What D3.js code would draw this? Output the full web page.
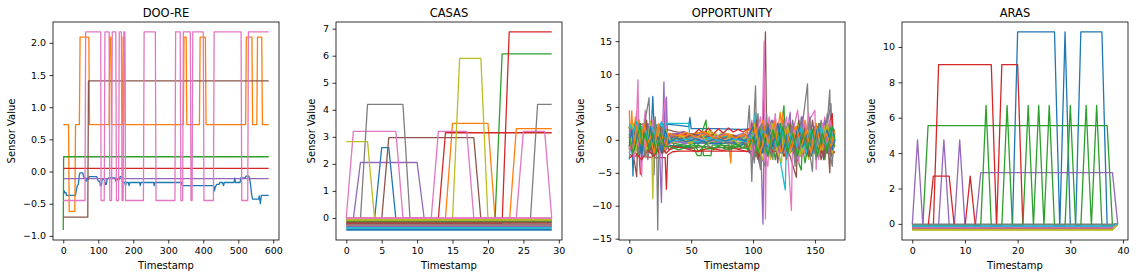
<!DOCTYPE html>
<html><head><meta charset="utf-8">
<script src="https://cdn.jsdelivr.net/npm/d3@7"></script>
<style>
body{margin:0;background:#fff;}
svg text{font-family:"DejaVu Sans",sans-serif;fill:#000;}
</style></head><body>
<svg id="chart" width="1138" height="278"></svg>
<script>
const titles = ["DOO-RE","CASAS","OPPORTUNITY","ARAS"];
const xLabel = "Timestamp";
const yLabel = "Sensor Value";

const xTicksDOORE = [0,100,200,300,400,500,600];
const yTicksDOORE = [-1.0,-0.5,0.0,0.5,1.0,1.5,2.0];
const xTicksCASAS = [0,5,10,15,20,25,30];
const yTicksCASAS = [0,1,2,3,4,5,6,7];
const xTicksOPP = [0,50,100,150];
const yTicksOPP = [-15,-10,-5,0,5,10,15];
const xTicksARAS = [0,10,20,30,40];
const yTicksARAS = [0,2,4,6,8,10];

// DOO-RE: each series is a list of [timestamp, value] vertices
const dooreSeries = [
 [[0,-0.3],[3,-0.3],[4,-0.33],[8,-0.33],[9,-0.37],[35,-0.37],[37,-0.3],[40,-0.22],[43,-0.2],[46,-0.05],[48,-0.02],[56,-0.02],[58,-0.08],[62,-0.1],[66,-0.15],[68,-0.1],[72,-0.12],[74,-0.08],[96,-0.08],[98,-0.12],[100,-0.15],[104,-0.15],[106,-0.22],[109,-0.22],[111,-0.12],[118,-0.12],[120,-0.2],[123,-0.2],[125,-0.12],[130,-0.1],[148,-0.1],[150,-0.15],[155,-0.12],[160,-0.12],[162,-0.08],[168,-0.08],[170,-0.17],[176,-0.17],[178,-0.22],[180,-0.17],[186,-0.17],[188,-0.22],[190,-0.17],[218,-0.17],[220,-0.22],[222,-0.17],[258,-0.17],[260,-0.22],[262,-0.17],[338,-0.17],[340,-0.22],[430,-0.22],[432,-0.3],[434,-0.25],[438,-0.2],[445,-0.2],[447,-0.17],[455,-0.17],[458,-0.22],[460,-0.17],[488,-0.17],[490,-0.1],[492,-0.17],[505,-0.17],[507,-0.1],[520,-0.1],[522,-0.07],[530,-0.07],[532,-0.1],[535,-0.2],[538,-0.35],[541,-0.43],[558,-0.43],[560,-0.38],[563,-0.5],[566,-0.37],[587,-0.37]],
 [[0,0.73],[15,0.73],[17,-0.62],[33,-0.62],[35,0.73],[46,0.73],[48,2.09],[73,2.09],[75,0.73],[131,0.73],[133,2.09],[136,2.09],[138,0.73],[169,0.73],[171,2.09],[175,2.09],[177,0.73],[343,0.73],[345,2.09],[351,2.09],[353,0.73],[389,0.73],[391,2.09],[406,2.09],[408,0.73],[521,0.73],[523,2.09],[539,2.09],[541,0.73],[553,0.73],[555,2.09],[567,2.09],[569,0.73],[587,0.73]],
 [[0,-0.91],[1,0.23],[587,0.23]],
 [[0,0.05],[587,0.05]],
 [[0,-0.11],[587,-0.11]],
 [[0,-0.71],[70,-0.71],[72,1.41],[587,1.41]],
 [[0,-0.45],[62,-0.45],[64,2.17],[107,2.17],[108,-0.45],[117,-0.45],[119,2.17],[131,2.17],[133,-0.45],[138,-0.45],[140,2.17],[150,2.17],[152,-0.45],[158,-0.45],[160,2.17],[166,2.17],[168,-0.45],[171,-0.45],[173,2.17],[176,2.17],[178,-0.45],[229,-0.45],[231,2.17],[263,2.17],[265,-0.45],[319,-0.45],[321,2.17],[334,2.17],[336,-0.45],[341,-0.45],[343,2.17],[363,2.17],[365,-0.45],[368,-0.45],[370,2.17],[400,2.17],[402,-0.45],[429,-0.45],[431,2.17],[508,2.17],[510,-0.45],[527,-0.45],[529,2.17],[587,2.17]]
];

const casasSeries = [
 [[0,-0.03],[4,-0.03],[5,2.6],[6,2.6],[7,-0.03],[29,-0.03]],
 [[0,-0.02],[14,-0.02],[15,3.5],[20,3.5],[21,-0.02],[29,-0.02]],
 [[0,-0.08],[21,-0.08],[22,6.07],[29,6.07]],
 [[0,-0.02],[13,-0.02],[14,3.15],[29,3.15]],
 [[0,-0.03],[1,-0.03],[2,2.05],[10,2.05],[11,-0.03],[29,-0.03]],
 [[0,-0.05],[5,-0.05],[6,2.97],[18,2.97],[19,-0.05],[29,-0.05]],
 [[0,0],[1,3.2],[7,3.2],[8,0],[12,0],[13,3.2],[17,3.2],[18,0],[24,0],[25,3.2],[28,3.2],[29,0]],
 [[0,-0.04],[2,-0.04],[3,4.2],[8,4.2],[9,-0.04],[26,-0.04],[27,4.2],[29,4.2]],
 [[0,2.82],[3,2.82],[4,-0.05],[15,-0.05],[16,5.9],[19,5.9],[20,-0.05],[29,-0.05]],
 [[0,-0.38],[29,-0.38]],
 [[0,-0.45],[29,-0.45]],
 [[0,-0.25],[23,-0.25],[24,3.3],[29,3.3]],
 [[0,-0.1],[29,-0.1]],
 [[0,-0.2],[22,-0.2],[23,6.88],[29,6.88]],
 [[0,-0.32],[29,-0.32]],
 [[0,-0.12],[29,-0.12]],
 [[0,-0.02],[29,-0.02]],
 [[0,-0.28],[29,-0.28]],
 [[0,-0.06],[29,-0.06]],
 [[0,-0.36],[29,-0.36]],
 [[0,-0.42],[29,-0.42]],
 [[0,-0.27],[29,-0.27]],
 [[0,-0.15],[29,-0.15]],
 [[0,-0.22],[29,-0.22]],
 [[0,-0.3],[29,-0.3]],
 [[0,-0.17],[29,-0.17]],
 [[0,0],[29,0]],
 [[0,-0.24],[29,-0.24]],
 [[0,-0.08],[29,-0.08]]
];

const oppSeries = [
 [[0,1.4],[2,1.5],[3,-5.5],[4,1.0],[6,2.3],[12,2.4],[18,2.3],[19,6.6],[20,2.2],[30,2.4],[40,2.2],[48,2.0],[49,3.4],[50,1.7],[70,1.7],[90,1.6],[110,1.7],[130,1.6],[150,1.6],[166,1.6]],
 [[0,4.5],[1,-1],[2,4.4],[3,0.5],[5,2],[6,4.4],[7,0.2],[10,1.5],[13,-1],[16,1.8],[20,-0.5],[24,1.0],[28,-0.3],[32,0.5],[40,0.8],[50,0.3],[60,0.6],[70,0.5],[80,0.2],[82,-3.5],[83,0.3],[95,0.5],[100,-1],[104,2.5],[108,-1.5],[112,1],[116,-2],[120,1.5],[122,4.2],[124,0],[128,-1.5],[132,2],[136,-1],[140,1.8],[144,-1.2],[148,1.5],[152,-0.8],[156,2.2],[160,-1.3],[164,1.5],[166,0.5]],
 [[0,-0.5],[3,1.5],[6,-1.5],[9,0.8],[12,-2],[15,1],[18,-0.5],[22,2],[26,-1],[30,0.5],[35,-0.5],[45,-0.8],[52,-1.2],[55,-2.4],[58,-2.4],[59,-1],[60,-2.4],[66,-2.4],[67,-0.8],[75,-0.8],[85,-1],[95,-0.6],[100,1.5],[104,-2],[108,2],[112,-1.5],[116,1.5],[120,-2],[125,5.2],[126,-1],[130,1.5],[134,-2],[139,-4.6],[140,0.5],[146,2],[150,-1.5],[155,1.5],[160,-2],[164,2],[166,0]],
 [[0,-2.2],[4,-2.5],[8,-2.3],[9,-5.2],[10,-2.5],[20,-2.7],[29,-2.7],[30,-7.5],[31,-2.3],[35,-1.8],[40,-1.7],[80,-1.7],[120,-1.75],[166,-1.8]],
 [[0,0.5],[4,-1],[8,1.2],[12,-0.5],[16,2],[20,-1],[24,1],[26,-9.5],[27,1],[28,8.8],[29,-2],[30,6.5],[31,0],[35,1],[45,0.8],[55,0.5],[70,0.6],[85,0.4],[100,0.8],[105,-3.5],[106,1],[108,-12.8],[109,1.5],[115,-1],[120,2.5],[125,-1.5],[130,4.2],[131,-1],[136,2],[142,-2],[148,1.5],[154,-2.5],[160,2.5],[163,5.5],[164,-1],[166,1]],
 [[0,2.0],[6,-5.6],[7,1.8],[12,2.1],[20,1.9],[28,1.7],[36,1.3],[45,1.0],[60,0.8],[80,0.5],[100,0.3],[108,0.5],[110,16.4],[111,0.5],[115,-2],[120,1],[130,-2.5],[135,-5.7],[136,1],[145,-1.5],[150,2],[155,-3],[160,1],[162,-5],[163,1],[166,0.5]],
 [[0,-1],[3,2],[5,-1.5],[7,9.1],[8,-1],[10,-5.5],[11,1],[13,4.5],[14,-0.5],[18,1.5],[22,-2],[26,1.5],[29,6.2],[30,-1],[35,0.5],[45,0.2],[55,-0.3],[70,0],[85,-0.2],[95,0.5],[100,-1.5],[104,3.5],[107,-2],[109,15],[110,-12],[111,2],[115,-2],[118,4],[120,-1],[124,3],[128,-2],[131,-10.7],[132,1],[136,4.5],[140,-2.5],[144,2.5],[150,4.5],[151,-4.5],[152,1],[156,-2],[160,3],[164,-3],[166,0.5]],
 [[0,0.2],[4,1.5],[8,-1],[12,2],[16,6.4],[17,-1],[19,-1],[20,-5.3],[21,0.5],[22,1],[23,-13.7],[24,1],[28,-1],[32,0.5],[40,0],[55,-0.5],[70,0],[85,-0.2],[95,0.5],[97,5.2],[98,-1],[99,-6.3],[100,0],[102,8.2],[103,-1],[106,-4.5],[107,1],[112,-2],[116,2.5],[120,-3],[124,2],[128,-2.5],[132,3],[136,-2],[140,2.5],[144,8.5],[145,-1],[148,-4.8],[149,1],[154,2],[158,-2.5],[162,7.6],[163,-1],[166,0]],
 [[0,1],[4,-2],[8,0.5],[12,-1],[16,1.5],[18,-0.5],[19,-8.9],[20,0],[24,-2],[28,0.5],[32,-0.5],[40,-0.3],[50,0.2],[55,1.2],[60,0.2],[65,1.5],[70,0],[75,1.2],[80,-0.3],[88,0.5],[95,-0.5],[100,1],[105,-2.5],[110,2],[115,-1.5],[120,1],[125,-2],[130,1.5],[135,-2],[140,0.5],[145,-3],[150,1],[155,-1.5],[160,0.5],[166,-0.5]],
 [[0,-3],[2,2],[5,-1],[10,1],[15,-1.5],[20,0.5],[25,-0.5],[30,2.5],[48,2.5],[49,0.3],[60,0.4],[80,0.3],[100,0.2],[102,4.2],[103,0],[110,0.5],[120,-1],[126,-7.6],[127,0],[135,0.5],[145,-0.5],[155,0.5],[166,0]],
 [[0,0],[3,-2.5],[6,1],[9,-1],[12,1.8],[15,-2],[18,0.5],[21,-1],[25,1.5],[30,-1],[35,0],[45,-0.5],[50,-0.5],[60,-0.2],[70,-0.6],[80,-0.4],[90,-0.8],[100,-0.3],[104,2.5],[106,-2],[110,1],[114,-2.5],[118,1.5],[122,-1.5],[126,2],[130,-2],[134,1],[138,-2.5],[142,1.5],[146,-1],[150,2],[154,-2],[158,1],[162,-1.5],[166,0.5]],
 [[0,-1.5],[2,1],[4,-2],[6,0.5],[8,3],[9,-1],[12,0.5],[15,-1],[18,2],[21,-0.5],[24,0],[28,-1.5],[32,0],[40,0.3],[50,-0.3],[60,0],[70,-0.2],[80,0],[90,0.3],[95,-1],[98,2],[102,-1.5],[106,1.5],[110,-2],[114,2],[118,-1],[122,2],[126,-2],[130,1.5],[134,-1.5],[138,1],[142,-2],[146,2],[150,-1],[154,2],[158,-2],[162,1.5],[166,-1]],
 [[0,2],[3,-1],[6,1],[9,-2],[12,1.5],[15,0],[18,-1.5],[21,2],[24,-0.5],[28,1],[32,-1],[40,-0.8],[50,-1.2],[55,-1],[62,3],[63,-0.5],[70,-0.3],[80,-0.6],[90,-0.4],[100,-1],[103,1.5],[107,-2],[111,1],[115,-2.5],[119,1],[123,-1.5],[127,2],[131,-1],[135,1.5],[139,-2],[143,1],[147,-2.5],[151,1.5],[155,-1],[159,2],[163,-2],[166,0]],
 [[0,-1],[4,1],[8,-2],[12,0],[16,-1.5],[20,1],[24,-2],[28,0],[35,0.5],[42,1.2],[48,0.5],[52,0.8],[56,1.6],[60,1.0],[64,1.8],[68,0.9],[72,1.7],[76,1.0],[80,1.8],[84,1.2],[88,1.6],[92,1.2],[96,1.7],[100,1.0],[104,1.8],[108,0.8],[112,1.5],[116,0.5],[120,1.2],[124,0],[128,1.5],[132,-0.5],[136,1.0],[140,-1],[144,0.8],[148,-0.5],[152,1],[156,-1],[160,1.2],[164,4],[165,-0.5],[166,0]],
 [[0,-2],[3,1],[6,-1],[9,1.5],[12,-1],[15,2.5],[18,-2],[21,1],[24,-1.5],[28,2],[32,-0.5],[38,-0.2],[45,-0.6],[55,-0.4],[65,-0.6],[75,-0.3],[85,-0.6],[95,-0.2],[100,-1.5],[104,2],[108,-1],[112,2.5],[116,-2],[120,1],[124,-1.5],[128,2.5],[132,-1],[136,1.5],[140,-2],[144,2],[148,-1],[152,1.5],[156,-2.5],[160,1],[164,-1],[166,0]],
 [[0,-1.5],[4,0.5],[8,-1],[12,1],[16,-2],[20,0],[24,-1],[28,1],[32,-1.5],[40,-1],[50,-1.3],[60,-1],[70,-1.2],[80,-1.1],[90,-1.3],[100,-0.8],[104,-3],[106,0],[112,-1],[118,1],[124,-2],[130,0.5],[136,-2],[142,1],[148,-1.5],[154,1.5],[160,-2],[166,-1]],
 [[0,1],[3,-1],[6,2],[9,-2],[12,0.5],[15,-1],[18,1.5],[21,-2],[24,2],[27,-1],[30,1],[35,-0.5],[45,0],[55,0.3],[65,-0.3],[75,0.2],[85,0],[95,-0.5],[99,3],[101,-2],[105,2],[109,-3],[113,3.5],[117,-1.5],[121,2.5],[125,-2],[129,3],[133,-1.5],[137,2],[141,-2],[145,4],[146,-1],[150,2],[154,-2],[158,3.5],[162,-2.5],[166,1]],
 [[0,-0.5],[4,2.5],[8,-2],[12,1],[15,-3],[18,1.5],[22,-1],[26,2],[30,-1.5],[34,0],[44,0.3],[54,-0.2],[64,0.2],[74,-0.3],[84,0],[94,0.4],[100,-3],[101,1],[104,4],[105,-2],[110,-4],[111,1],[115,3],[119,-2],[123,2],[127,-3],[131,2],[135,-3],[139,3.5],[143,-2.5],[147,2],[151,-3],[155,3],[159,-2],[163,2.5],[166,-1]],
 [[0,0],[3,2.5],[6,-1],[9,1],[12,-2.5],[15,1.5],[18,-1],[21,2],[24,-1.5],[28,1],[32,0],[40,0.5],[48,-0.5],[55,1],[60,-0.2],[66,1.3],[72,0],[78,1],[84,-0.2],[90,0.6],[98,-0.8],[102,2],[106,-1.5],[110,1.5],[114,-3],[118,1],[122,-1.5],[126,2],[130,-2],[134,1],[138,-2.5],[142,2],[146,-1],[150,1.5],[154,-2],[158,2],[162,-1],[166,0.5]],
 [[0,1],[3,-1],[6,1.5],[9,0],[12,-1.5],[15,1],[18,-0.5],[22,1.5],[26,-1],[30,0.5],[40,0],[50,0.3],[60,0.5],[70,0.3],[80,0.6],[90,0.4],[100,-0.5],[104,1.5],[108,-1],[112,1],[116,-1.5],[120,2],[124,-1],[128,1.5],[132,-1],[136,1],[140,-1.5],[144,1.5],[148,-1],[152,1],[156,-1.5],[160,1],[164,-1],[166,0]],
 [[0,0.5],[10,0.2],[20,-0.3],[30,-0.8],[40,-1],[48,-1.2],[50,-0.6],[60,-0.4],[70,-0.6],[80,-0.4],[90,-0.5],[100,-0.2],[120,0],[140,-0.3],[166,-0.2]],
 [[0,2],[3,0],[5,3.5],[6,-1],[10,2],[14,-2],[17,1],[20,-1.5],[24,2.5],[28,-0.5],[32,1],[40,0.5],[50,0.8],[60,1.2],[70,0.6],[80,0.9],[90,0.5],[100,2],[104,-1.5],[108,3],[112,-0.5],[116,2.5],[120,-2],[124,4],[125,0],[130,-1.5],[134,2],[138,-1],[142,3],[146,-2],[150,1.5],[154,-1],[158,3],[162,-1.5],[166,0.5]],
 [[0,-1],[4,1.5],[8,-2.5],[11,2],[14,-1],[17,2.5],[20,-2],[23,1],[27,-2],[31,0.5],[38,-1.2],[46,-1],[52,-0.5],[56,-1.8],[62,-0.6],[68,-1.5],[74,-0.7],[80,-1.3],[86,-0.6],[92,-1.2],[98,0.5],[102,-2.5],[106,2],[110,-1],[114,1.5],[118,-3],[122,2.5],[126,-1],[128,2.5],[130,-0.5],[134,-2.5],[138,1.5],[142,-3.5],[146,1],[150,-2],[154,2.5],[158,-3],[162,2],[166,-1]],
 [[0,-2.8],[5,-2],[10,-3],[15,-1.5],[20,-2.5],[25,-1],[30,-2],[35,-1],[45,-1.3],[55,-1.8],[65,-1.2],[75,-1.6],[85,-1.3],[95,-1.8],[100,-1],[105,-2.5],[110,-0.5],[115,-2],[120,0],[125,-2.5],[130,-0.5],[135,-2],[140,0.5],[145,-2.5],[150,-0.5],[155,-2],[160,0],[165,-2],[166,-1.8]],
 [[0,1.8],[4,-0.5],[8,2.5],[12,-1],[16,1],[20,3],[22,-1],[26,1.5],[30,-0.5],[36,0.8],[44,1.3],[52,0.6],[60,1],[68,0.4],[76,0.9],[84,0.5],[92,1],[98,-2],[100,2.5],[104,-1],[108,2],[112,-2],[116,3],[120,-1],[124,1],[128,-2],[132,2],[136,-1.5],[140,3.5],[141,0],[146,-2],[150,2],[154,-1],[158,3],[162,-2],[166,1]],
 [[0,0.8],[2,-1.2],[4,1.5],[6,-0.5],[8,2],[10,-1.8],[12,0.5],[14,3],[15,-1],[17,1],[19,-2.5],[21,0.8],[23,-1],[25,2.2],[27,-2],[29,1],[31,-0.5],[36,0.6],[44,0.2],[52,0.9],[60,0.3],[68,0.8],[76,0.2],[84,0.7],[92,0.1],[97,-2],[99,2.5],[101,-1],[103,3],[105,-2.5],[107,1],[109,-1.5],[112,2.5],[114,-2],[117,1.5],[120,-3.5],[121,0],[124,2],[127,-1.5],[130,2.5],[133,-2],[137,3],[139,-1],[142,2],[145,-2.5],[148,3],[151,-1],[154,2],[157,-3],[160,2],[163,-2.5],[166,0]],
 [[0,-2],[2,0.5],[4,-3],[5,1],[8,-1],[11,2.5],[13,-2],[16,0.5],[19,3],[20,-1],[23,1.5],[25,-2.5],[28,0],[31,-1],[38,0.2],[46,-0.4],[54,0.4],[62,-0.2],[70,0.6],[78,-0.3],[86,0.3],[94,-0.4],[98,1.5],[100,-2.5],[103,1],[106,3.5],[108,-1],[112,-4],[113,0.5],[117,2],[121,-2.5],[124,1],[127,3.5],[129,-2],[133,1.5],[137,-3.5],[138,0],[142,2.5],[146,-1.5],[149,1],[153,-3],[156,2.5],[159,-1],[162,3],[166,-0.5]],
 [[0,1.5],[2,-1],[5,2.5],[7,-2],[10,0],[13,-2.5],[16,2],[18,-1],[21,3.5],[22,0],[25,-1.5],[27,2.5],[30,-1],[33,1],[40,-0.3],[50,0.5],[60,-0.5],[70,0.2],[80,-0.6],[90,0.3],[97,-1],[99,2],[101,-3.5],[103,1],[107,2.5],[109,-2],[111,4],[112,0],[116,-3],[118,1.5],[122,-2],[125,3],[128,-1],[131,2],[134,-4],[135,0],[139,2],[143,-1.5],[146,3.5],[147,-0.5],[150,-2],[153,2.5],[157,-1.5],[160,4],[161,-1],[164,-4],[165,0],[166,1]],
 [[0,-1.2],[3,0.8],[5,-2],[8,2],[10,-0.5],[12,1.5],[14,-1.5],[17,2.8],[18,0],[21,-1.5],[24,1.5],[27,-0.5],[30,1.5],[34,-0.5],[42,0.6],[50,-0.6],[58,0.8],[64,-0.5],[70,1],[76,-0.4],[82,0.8],[88,-0.6],[94,0.5],[98,-1.5],[101,2.5],[104,-1],[108,-3],[110,1],[113,-1],[116,2.5],[119,-1.5],[123,-3.5],[124,0],[128,2],[132,-1.5],[136,2.5],[140,-2],[144,1.5],[148,-2],[152,2],[156,-1.5],[160,2.5],[164,-2],[166,0]],
 [[0,2.5],[3,1],[6,2.8],[9,0.5],[12,2.5],[15,0],[18,2],[22,0.5],[26,2.8],[29,1],[31,0],[35,-0.2],[45,0.1],[55,-0.3],[65,0.2],[75,-0.2],[85,0.1],[95,-0.3],[100,1],[103,-1.5],[107,1.5],[111,-2],[115,1],[119,-1],[123,2],[127,-2.5],[131,1],[135,-1],[139,2],[143,-2],[147,1.5],[151,-1.5],[155,2],[159,-1],[163,1.5],[166,-0.5]],
 [[0,-1],[2,1.5],[4,-1.5],[7,1],[10,-2.5],[12,1.5],[15,-1],[17,2],[20,-1.5],[23,0.5],[26,-2],[29,1.5],[32,-0.5],[38,0.3],[46,-0.3],[54,0.2],[62,-0.4],[70,0.3],[78,-0.2],[86,0.4],[94,-0.2],[100,2],[102,-1],[105,1.5],[108,-2],[112,2],[116,-1],[120,2.5],[124,-2],[128,1],[132,-1.5],[136,2],[140,-1],[144,1],[148,-2],[152,2],[156,-1],[160,1.5],[164,-1.5],[166,0]],
 [[0,0.5],[3,-1.8],[6,2],[9,-0.5],[12,2.5],[14,-1],[17,0.5],[20,-2],[23,2],[26,0],[29,-1.5],[32,1],[38,0.6],[46,1.1],[54,0.4],[62,1],[70,0.2],[78,0.8],[86,0.3],[94,0.9],[98,-1],[102,2],[106,-2],[110,1],[114,-1],[118,3],[119,0],[123,-2],[127,1.5],[131,-1.5],[135,2],[139,-1],[143,1.5],[147,-2],[151,2.5],[155,-1.5],[159,1],[163,-1],[166,1.5]],
 [[0,0.5],[3,-2],[6,0],[9,2.5],[10,-1],[13,1],[16,-1.5],[19,1],[22,-2],[25,1],[28,-1],[32,-1],[40,-1.5],[48,-1],[56,-0.8],[64,-1.4],[72,-1],[80,-1.5],[88,-1],[96,-1.4],[100,0.5],[104,-2],[108,1],[112,-2.5],[116,1.5],[120,-1],[124,2],[128,-2],[132,1],[136,-2.5],[140,1],[144,-1.5],[148,1.5],[152,-2.5],[156,1],[160,-1.5],[164,2],[166,0]]
];

const arasSeries = [
 [[0,-0.2],[19,-0.2],[20,10.85],[27,10.85],[28,-0.2],[29,10.85],[30,-0.2],[31,-0.2],[32,10.85],[36,10.85],[37,-0.2],[38,-0.2],[39,0]],
 [[0,-0.3],[38,-0.3],[39,0]],
 [[0,-0.1],[2,-0.1],[3,5.55],[37,5.55],[38,-0.1],[39,0]],
 [[0,-0.2],[4,-0.2],[5,9.0],[15,9.0],[16,-0.2],[17,9.0],[20,9.0],[21,-0.2],[38,-0.2],[39,0]],
 [[0,-0.05],[1,4.75],[2,-0.05],[5,-0.05],[6,4.75],[7,-0.05],[8,-0.05],[9,4.75],[10,-0.05],[12,-0.05],[13,2.9],[38,2.9],[39,0]],
 [[0,-0.25],[38,-0.25],[39,-0.02]],
 [[0,-0.2],[38,-0.2],[39,0]],
 [[0,-0.02],[38,-0.02],[39,0.02]],
 [[0,-0.35],[38,-0.35],[39,-0.02]],
 [[0,-0.15],[38,-0.15],[39,0]],
 [[0,-0.22],[38,-0.22],[39,0]],
 [[0,-0.28],[38,-0.28],[39,0]],
 [[0,-0.1],[13,-0.1],[14,6.7],[15,-0.1],[17,-0.1],[18,6.7],[19,-0.1],[21,-0.1],[22,6.7],[23,-0.1],[24,6.7],[25,-0.1],[26,6.7],[27,-0.1],[29,-0.1],[30,6.7],[31,-0.1],[32,-0.1],[33,6.7],[34,-0.1],[35,6.7],[36,-0.1],[38,-0.1],[39,0]],
 [[0,-0.2],[3,-0.2],[4,2.7],[7,2.7],[8,-0.2],[10,-0.2],[11,2.7],[12,-0.2],[38,-0.2],[39,0]],
 [[0,-0.18],[38,-0.18],[39,0]],
 [[0,-0.27],[38,-0.27],[39,0]],
 [[0,-0.23],[38,-0.23],[39,0]],
 [[0,-0.05],[38,-0.05],[39,0]],
 [[0,-0.33],[38,-0.33],[39,0]],
 [[0,-0.12],[38,-0.12],[39,0]]
];

const tab10 = ["#1f77b4","#ff7f0e","#2ca02c","#d62728","#9467bd","#8c564b","#e377c2","#7f7f7f","#bcbd22","#17becf"];

const panels = [
 {title:titles[0], series:dooreSeries, xt:xTicksDOORE, yt:yTicksDOORE, yf:d3.format(".1f")},
 {title:titles[1], series:casasSeries, xt:xTicksCASAS, yt:yTicksCASAS, yf:d3.format("d")},
 {title:titles[2], series:oppSeries, xt:xTicksOPP, yt:yTicksOPP, yf:d3.format("d")},
 {title:titles[3], series:arasSeries, xt:xTicksARAS, yt:yTicksARAS, yf:d3.format("d")}
];

const svg = d3.select("#chart");
const lefts = [53,336,619,902];
const W = 226, H = 218, TOP = 22;

panels.forEach((p,pi)=>{
  const L = lefts[pi];
  const g = svg.append("g").attr("transform",`translate(${L},${TOP})`);
  const pts = p.series.flat();
  const [x0,x1] = d3.extent(pts,d=>d[0]);
  const [y0,y1] = d3.extent(pts,d=>d[1]);
  const mx=(x1-x0)*0.05, my=(y1-y0)*0.05;
  const x = d3.scaleLinear().domain([x0-mx,x1+mx]).range([0,W]);
  const y = d3.scaleLinear().domain([y0-my,y1+my]).range([H,0]);
  const cid = "clip"+pi;
  g.append("clipPath").attr("id",cid).append("rect").attr("width",W).attr("height",H);
  const line = d3.line().x(d=>x(d[0])).y(d=>y(d[1]));
  const lg = g.append("g").attr("clip-path",`url(#${cid})`);
  p.series.forEach((s,i)=>{
    lg.append("path").attr("d",line(s)).attr("fill","none")
      .attr("stroke",tab10[i%10]).attr("stroke-width",1.3)
      .attr("stroke-linejoin","round");
  });
  g.append("rect").attr("width",W).attr("height",H).attr("fill","none")
    .attr("stroke","#000").attr("stroke-width",0.8);
  const ya = g.append("g").call(d3.axisLeft(y).tickValues(p.yt).tickFormat(p.yf).tickSize(3.5).tickPadding(3.5));
  ya.select(".domain").remove();
  ya.attr("font-size",null).attr("font-family",null);
  ya.selectAll("text").style("font-size","9.5px");
  ya.selectAll("line").attr("stroke-width",0.8);
  const xa = g.append("g").attr("transform",`translate(0,${H})`)
    .call(d3.axisBottom(x).tickValues(p.xt).tickFormat(d3.format("d")).tickSize(3.5).tickPadding(3.5));
  xa.select(".domain").remove();
  xa.attr("font-size",null).attr("font-family",null);
  xa.selectAll("text").style("font-size","9.5px");
  xa.selectAll("line").attr("stroke-width",0.8);
  g.append("text").attr("x",W/2).attr("y",-5).attr("text-anchor","middle")
    .style("font-size","11.5px").text(p.title);
  g.append("text").attr("x",W/2).attr("y",H+29).attr("text-anchor","middle")
    .style("font-size","10px").text(xLabel);
  const bb = ya.node().getBBox();
  const cx = bb.x - 11;
  g.append("text").attr("transform",`translate(${cx},${H/2}) rotate(-90)`)
    .attr("text-anchor","middle").attr("dy","0.35em")
    .style("font-size","10px").text(yLabel);
});
</script>
</body></html>
